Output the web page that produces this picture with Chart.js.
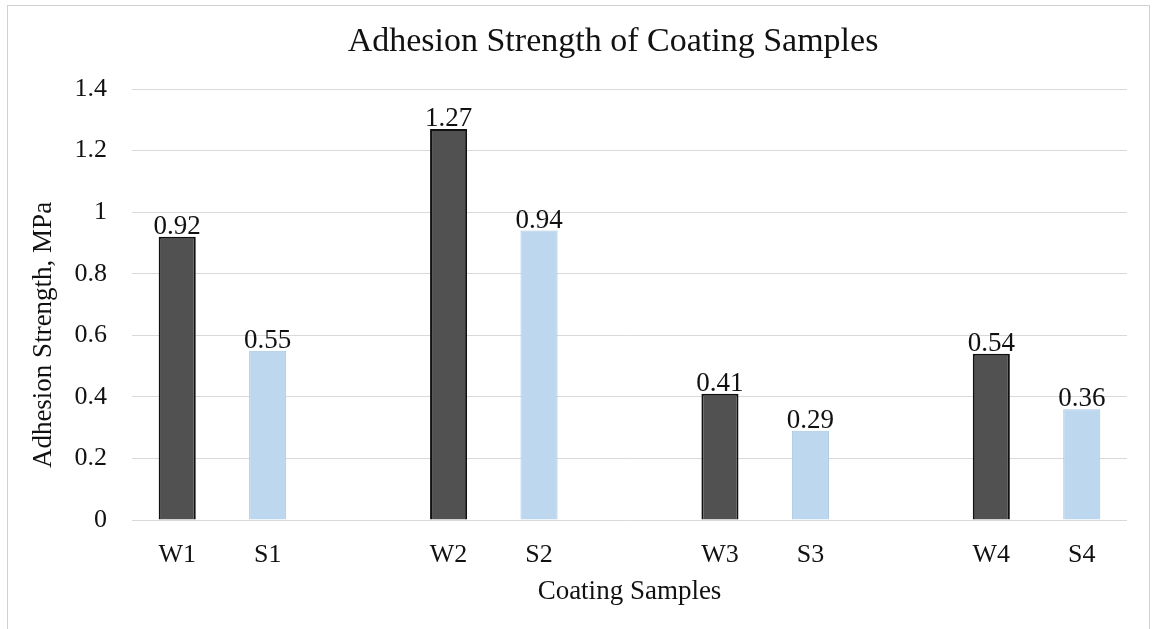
<!DOCTYPE html>
<html>
<head>
<meta charset="utf-8">
<script src="https://cdn.jsdelivr.net/npm/chart.js@4"></script>
<style>
  body { margin: 0; background: #fff; }
  #grafico { display: block; }
</style>
</head>
<body>
<canvas id="grafico" width="1153" height="629"></canvas>
<script>
// amostras (as vazias só abrem espaço entre os pares)
const amostras = ['W1', 'S1', '', 'W2', 'S2', '', 'W3', 'S3', '', 'W4', 'S4'];
const aderencia = [0.92, 0.55, null, 1.27, 0.94, null, 0.41, 0.29, null, 0.54, 0.36];
const ticksY = [0, 0.2, 0.4, 0.6, 0.8, 1, 1.2, 1.4];

const titulo = 'Adhesion Strength of Coating Samples';
const tituloY = 'Adhesion Strength, MPa';
const tituloX = 'Coating Samples';

const corW = '#515151';
const corS = '#bdd7ee';
const fonte = '"Liberation Serif", "Times New Roman", serif';

const cores = amostras.map(a => a.startsWith('W') ? corW : corS);
const bordas = amostras.map(a => a.startsWith('W') ? '#111111' : '#a7c5e1');
const larguraBorda = amostras.map(a => a.startsWith('W') ? 2 : 1);

// moldura clara em volta do gráfico
const moldura = {
    id: 'moldura',
    beforeDraw(chart) {
        const ctx = chart.ctx;
        ctx.save();
        ctx.fillStyle = '#fff';
        ctx.fillRect(0, 0, chart.width, chart.height);
        ctx.strokeStyle = '#d0d0d0';
        ctx.lineWidth = 1;
        ctx.strokeRect(7.5, 5.5, 1142, 700);
        ctx.restore();
    }
};

// título principal e título do eixo Y desenhados à mão
const titulos = {
    id: 'titulos',
    afterDraw(chart) {
        const ctx = chart.ctx;
        ctx.save();
        ctx.fillStyle = '#111';
        ctx.textAlign = 'center';
        ctx.textBaseline = 'middle';
        ctx.font = '34px ' + fonte;
        ctx.fillText(titulo, 613, 42);
        ctx.translate(44, 335);
        ctx.rotate(-Math.PI / 2);
        ctx.font = '27px ' + fonte;
        ctx.fillText(tituloY, 0, 0);
        ctx.restore();
    }
};

// valor escrito em cima de cada barra
const rotulos = {
    id: 'rotulos',
    afterDatasetsDraw(chart) {
        const ctx = chart.ctx;
        const meta = chart.getDatasetMeta(0);
        ctx.save();
        ctx.font = '27px ' + fonte;
        ctx.fillStyle = '#111';
        ctx.textAlign = 'center';
        ctx.textBaseline = 'alphabetic';
        meta.data.forEach((bar, i) => {
            const v = aderencia[i];
            if (v === null) return;
            ctx.fillText(v.toFixed(2), bar.x, bar.y - 3);
        });
        ctx.restore();
    }
};

new Chart(document.getElementById('grafico'), {
    type: 'bar',
    data: {
        labels: amostras,
        datasets: [{
            data: aderencia,
            backgroundColor: cores,
            borderColor: bordas,
            borderWidth: larguraBorda,
            barPercentage: 0.41,
            categoryPercentage: 1
        }]
    },
    options: {
        responsive: false,
        animation: false,
        layout: { padding: { left: 0, right: 26, top: 89, bottom: 0 } },
        plugins: {
            legend: { display: false },
            tooltip: { enabled: false },
            title: { display: false }
        },
        scales: {
            x: {
                grid: { display: false },
                border: { display: false },
                ticks: { color: '#111', font: { family: fonte, size: 26 }, padding: 12, maxRotation: 0 },
                title: {
                    display: true,
                    text: tituloX,
                    color: '#111',
                    font: { family: fonte, size: 27 },
                    padding: { top: 4, bottom: 21 }
                },
                afterFit: s => { s.height = 109; }
            },
            y: {
                min: 0,
                max: 1.4,
                afterBuildTicks: s => { s.ticks = ticksY.map(v => ({ value: v })); },
                grid: { color: '#d9d9d9', lineWidth: 1, drawTicks: false },
                border: { display: false },
                ticks: { color: '#111', font: { family: fonte, size: 26 }, padding: 25,
                         callback: v => String(v) },
                afterFit: s => { s.width = 132; }
            }
        }
    },
    plugins: [moldura, titulos, rotulos]
});
</script>
</body>
</html>
